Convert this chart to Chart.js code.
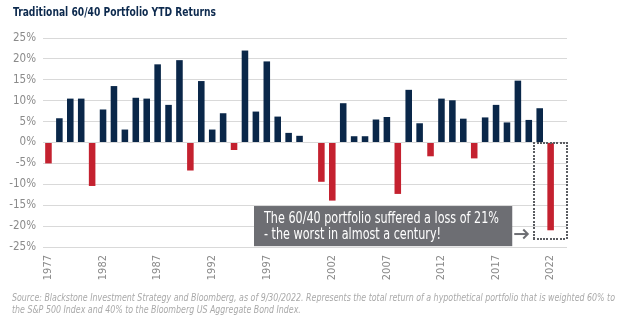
<!DOCTYPE html>
<html>
<head>
<meta charset="utf-8">
<script src="https://cdn.jsdelivr.net/npm/chart.js@4/dist/chart.umd.min.js"></script>
<style>
  html, body { margin: 0; padding: 0; background: #ffffff; }
  #wrap { position: relative; width: 624px; height: 324px; overflow: hidden; background: #ffffff; }
  #chart { position: absolute; left: 0; top: 0; }
  .title {
    position: absolute; left: 13px; top: 5px; white-space: nowrap;
    font: bold 12.5px "Liberation Sans Narrow", "DejaVu Sans Condensed", sans-serif;
    color: #0d2a4e; transform-origin: 0 0; line-height: 14px;
  }
  .source {
    position: absolute; left: 12px; top: 292px; white-space: nowrap;
    font: italic 11px "Liberation Sans Narrow", "DejaVu Sans Condensed", sans-serif;
    color: #a9a9a9; transform-origin: 0 0; line-height: 11.5px;
  }
</style>
</head>
<body>
<div id="wrap">
  <canvas id="chart" width="624" height="324"></canvas>
  <div class="title" id="title">Traditional 60/40 Portfolio YTD Returns</div>
  <div class="source" id="source"><span id="src1">Source: Blackstone Investment Strategy and Bloomberg, as of 9/30/2022. Represents the total return of a hypothetical portfolio that is weighted 60% to</span><br><span id="src2">the S&amp;P 500 Index and 40% to the Bloomberg US Aggregate Bond Index.</span></div>
</div>
<script>
// Year-to-date (through 9/30) returns of a 60/40 portfolio, in percent.
// The axis keeps a blank slot after 2000 and one after 2022.
const periods = [
  '1977', '1978', '1979', '1980', '1981', '1982', '1983', '1984', '1985', '1986',
  '1987', '1988', '1989', '1990', '1991', '1992', '1993', '1994', '1995', '1996',
  '1997', '1998', '1999', '2000', '',
  '2001', '2002', '2003', '2004', '2005', '2006', '2007', '2008', '2009', '2010',
  '2011', '2012', '2013', '2014', '2015', '2016', '2017', '2018', '2019', '2020',
  '2021', '2022', ''
];

const returns = [
  -5.0, 5.8, 10.5, 10.5, -10.4, 7.9, 13.5, 3.1, 10.7, 10.5,
  18.7, 9.0, 19.7, -6.7, 14.7, 3.1, 7.0, -1.8, 22.0, 7.4,
  19.4, 6.2, 2.3, 1.6, null,
  -9.4, -13.9, 9.4, 1.5, 1.5, 5.5, 6.1, -12.3, 12.6, 4.6,
  -3.3, 10.5, 10.1, 5.7, -3.8, 6.0, 9.0, 4.8, 14.8, 5.4,
  8.2, -21.0, null
];

const tickYears = ['1977', '1982', '1987', '1992', '1997', '2002', '2007', '2012', '2017', '2022'];
const yTicks = { min: -25, max: 25, step: 5 };

const highlightPeriod = '2022';
const calloutLines = ['The 60/40 portfolio suffered a loss of 21%', '- the worst in almost a century!'];

const NAVY = '#0a2749';
const RED = '#c4212f';
const LABEL_FONT = '"Liberation Sans Narrow", "DejaVu Sans Condensed", sans-serif';

// Dotted frame around the highlighted bar, plus the grey callout box and arrow.
const calloutPlugin = {
  id: 'callout',
  afterDatasetsDraw(chart) {
    const { ctx, scales: { x, y } } = chart;
    const idx = periods.indexOf(highlightPeriod);
    const cx = x.getPixelForValue(idx);
    const slot = x.getPixelForValue(1) - x.getPixelForValue(0);
    const fx0 = cx - 1.5 * slot, fx1 = cx + 1.5 * slot;
    const fy0 = y.getPixelForValue(0), fy1 = y.getPixelForValue(-23);

    ctx.save();
    // dotted frame
    ctx.fillStyle = '#5a5c61';
    const dot = 2, gap = 3.3;
    for (let px = fx0; px <= fx1 + 0.1; px += gap) {
      ctx.fillRect(Math.round(px) - 1, Math.round(fy0) - 1, dot, dot);
      ctx.fillRect(Math.round(px) - 1, Math.round(fy1) - 1, dot, dot);
    }
    for (let py = fy0; py <= fy1 + 0.1; py += gap) {
      ctx.fillRect(Math.round(fx0) - 1, Math.round(py) - 1, dot, dot);
      ctx.fillRect(Math.round(fx1) - 1, Math.round(py) - 1, dot, dot);
    }

    // callout box
    const bx1 = fx0 - 22, bx0 = 254;
    const by0 = y.getPixelForValue(-15.2), by1 = y.getPixelForValue(-24.8);
    ctx.fillStyle = '#6d6e73';
    ctx.fillRect(bx0, by0, bx1 - bx0, by1 - by0);

    ctx.fillStyle = '#ffffff';
    ctx.font = '15px ' + LABEL_FONT;
    ctx.textBaseline = 'alphabetic';
    ctx.textAlign = 'left';
    const w1 = ctx.measureText(calloutLines[0]).width;
    const sx = 235 / w1;
    const tx = bx0 + 10;
    ctx.save();
    ctx.translate(tx, 0);
    ctx.scale(sx, 1);
    ctx.fillText(calloutLines[0], 0, by0 + 16.5);
    ctx.fillText(calloutLines[1], 0, by0 + 32.5);
    ctx.restore();

    // arrow pointing at the frame
    const ay = y.getPixelForValue(-21.9);
    ctx.strokeStyle = '#6d6e73';
    ctx.lineWidth = 2;
    ctx.lineCap = 'butt';
    ctx.beginPath();
    ctx.moveTo(bx1 + 2, ay);
    ctx.lineTo(fx0 - 7, ay);
    ctx.stroke();
    ctx.beginPath();
    ctx.moveTo(fx0 - 11, ay - 4.5);
    ctx.lineTo(fx0 - 6.5, ay);
    ctx.lineTo(fx0 - 11, ay + 4.5);
    ctx.stroke();
    ctx.restore();
  }
};

new Chart(document.getElementById('chart'), {
  type: 'bar',
  data: {
    labels: periods,
    datasets: [{
      data: returns,
      backgroundColor: returns.map(v => (v !== null && v < 0) ? RED : NAVY),
      borderWidth: 0,
      barPercentage: 0.6,
      categoryPercentage: 1.0
    }]
  },
  options: {
    responsive: false,
    animation: false,
    layout: { padding: { left: 0, top: 38, right: 57, bottom: 37 } },
    plugins: { legend: { display: false }, tooltip: { enabled: false }, title: { display: false } },
    scales: {
      x: {
        type: 'category',
        grid: { display: false, drawTicks: false },
        border: { display: false },
        ticks: {
          autoSkip: false,
          minRotation: 90,
          maxRotation: 90,
          padding: 8,
          color: '#8a8a8a',
          font: { family: LABEL_FONT, size: 11 },
          callback(value) {
            const label = this.getLabelForValue(value);
            return tickYears.includes(label) ? label : '';
          }
        },
        afterFit(scale) { scale.height = 40; }
      },
      y: {
        min: yTicks.min,
        max: yTicks.max,
        grid: { color: '#d9d9d9', lineWidth: 1, drawTicks: false },
        border: { display: false },
        ticks: {
          stepSize: yTicks.step,
          padding: 7,
          color: '#8a8a8a',
          font: { family: LABEL_FONT, size: 11.5 },
          callback: v => v + '%'
        },
        afterFit(scale) { scale.width = 43; }
      }
    }
  },
  plugins: [calloutPlugin]
});

// Fit the heading and the source note to their set widths.
function fitWidth(el, target) {
  const w = el.getBoundingClientRect().width;
  return target / w;
}
const title = document.getElementById('title');
title.style.transform = 'scaleX(' + fitWidth(title, 203) + ')';
const src = document.getElementById('source');
const s = fitWidth(document.getElementById('src1'), 603);
src.style.transform = 'scaleX(' + s + ')';
</script>
</body>
</html>
